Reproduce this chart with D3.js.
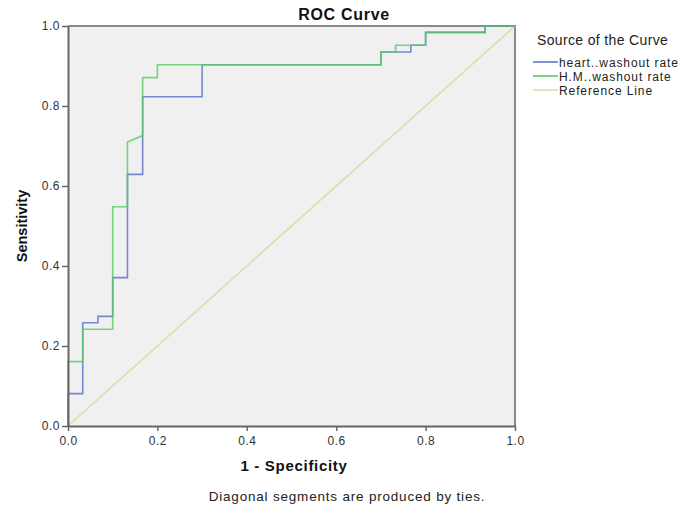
<!DOCTYPE html>
<html>
<head>
<meta charset="utf-8">
<script src="https://cdn.jsdelivr.net/npm/d3@7"></script>
<style>
  body { margin: 0; background: #fff; }
  svg { font-family: "Liberation Sans", Arial, sans-serif; }
</style>
</head>
<body>
<script>
// ROC points (1 - specificity, sensitivity)
const heartFpr = [0, 0, 0.033, 0.033, 0.067, 0.067, 0.1, 0.1, 0.133, 0.133, 0.167, 0.167, 0.3, 0.3, 0.7, 0.7, 0.767, 0.767, 0.8, 0.8, 0.933, 0.933, 1]
const heartTpr = [0, 0.081, 0.081, 0.258, 0.258, 0.274, 0.274, 0.371, 0.371, 0.629, 0.629, 0.823, 0.823, 0.903, 0.903, 0.935, 0.935, 0.952, 0.952, 0.984, 0.984, 1, 1]

const hmFpr = [0, 0, 0.033, 0.033, 0.1, 0.1, 0.133, 0.133, 0.167, 0.167, 0.2, 0.2, 0.7, 0.7, 0.733, 0.733, 0.8, 0.8, 0.933, 0.933, 1]
const hmTpr = [0, 0.161, 0.161, 0.242, 0.242, 0.548, 0.548, 0.71, 0.726, 0.871, 0.871, 0.903, 0.903, 0.935, 0.935, 0.952, 0.952, 0.984, 0.984, 1, 1]

const refFpr = [0, 1]
const refTpr = [0, 1]

const ticks = [0, 0.2, 0.4, 0.6, 0.8, 1.0]
const legendNames = ["heart..washout rate", "H.M..washout rate", "Reference Line"]
const colors = ["#5f77cc", "#55cc60", "#dcdcaa"]

const WIDTH = 688
const HEIGHT = 510
const plotL = 68, plotR = 515, plotT = 26, plotB = 426

const svg = d3.select("body").append("svg")
  .attr("width", WIDTH).attr("height", HEIGHT)

const x = d3.scaleLinear().domain([0, 1]).range([plotL, plotR])
const y = d3.scaleLinear().domain([0, 1]).range([plotB, plotT])

// plot background
svg.append("rect")
  .attr("x", plotL).attr("y", plotT)
  .attr("width", plotR - plotL).attr("height", plotB - plotT)
  .attr("fill", "#f0f0f0")

// frame top & right
svg.append("path")
  .attr("d", "M" + plotL + "," + plotT + "H" + plotR + "V" + plotB)
  .attr("fill", "none").attr("stroke", "#8a8a8a").attr("stroke-width", 2)

const line = d3.line().x(d => x(d[0])).y(d => y(d[1]))

function drawCurve(fx, ty, color, opacity) {
  svg.append("path")
    .datum(fx.map((v, i) => [v, ty[i]]))
    .attr("d", line)
    .attr("fill", "none")
    .attr("stroke", color)
    .attr("stroke-opacity", opacity)
    .attr("stroke-width", 1.6)
}

drawCurve(refFpr, refTpr, colors[2], 1)
drawCurve(heartFpr, heartTpr, colors[0], 0.85)
drawCurve(hmFpr, hmTpr, colors[1], 0.8)

// axes
const fmt = d3.format(".1f")
const xAxis = svg.append("g")
  .attr("transform", "translate(0," + plotB + ")")
  .call(d3.axisBottom(x).tickValues(ticks).tickFormat(fmt).tickSize(5).tickSizeOuter(0).tickPadding(5))
const yAxis = svg.append("g")
  .attr("transform", "translate(" + plotL + ",0)")
  .call(d3.axisLeft(y).tickValues(ticks).tickFormat(fmt).tickSize(6).tickSizeOuter(0).tickPadding(2))

for (const ax of [xAxis, yAxis]) {
  ax.select(".domain").attr("stroke", "#666").attr("stroke-width", 2)
  ax.selectAll(".tick line").attr("stroke", "#666").attr("stroke-width", 1.5)
  ax.selectAll("text").attr("fill", "#333").style("font-size", "12px")
    .style("letter-spacing", "0.5px")
    .style("font-family", "'Liberation Sans', Arial, sans-serif")
}

// titles
svg.append("text")
  .attr("x", 344).attr("y", 20)
  .attr("text-anchor", "middle")
  .style("font-size", "16px").style("font-weight", "bold")
  .style("letter-spacing", "0.7px")
  .attr("fill", "#111")
  .text("ROC Curve")

svg.append("text")
  .attr("x", 294).attr("y", 471)
  .attr("text-anchor", "middle")
  .style("font-size", "15px").style("font-weight", "bold")
  .style("letter-spacing", "0.7px")
  .attr("fill", "#111")
  .text("1 - Specificity")

svg.append("text")
  .attr("transform", "translate(27," + (plotT + plotB) / 2 + ") rotate(-90)")
  .attr("text-anchor", "middle")
  .style("font-size", "14.5px").style("font-weight", "bold")
  .attr("fill", "#111")
  .text("Sensitivity")

svg.append("text")
  .attr("x", 347).attr("y", 501)
  .attr("text-anchor", "middle")
  .style("font-size", "13.5px")
  .style("letter-spacing", "0.8px")
  .attr("fill", "#222")
  .text("Diagonal segments are produced by ties.")

// legend
const legend = svg.append("g")
legend.append("text")
  .attr("x", 537).attr("y", 45)
  .style("font-size", "14px")
  .style("letter-spacing", "0.35px")
  .attr("fill", "#222")
  .text("Source of the Curve")

legendNames.forEach(function(name, i) {
  const ly = 62 + i * 14
  legend.append("line")
    .attr("x1", 533).attr("x2", 558)
    .attr("y1", ly).attr("y2", ly)
    .attr("stroke", colors[i]).attr("stroke-width", 1.6)
  legend.append("text")
    .attr("x", 559).attr("y", ly + 4.5)
    .style("font-size", "12px")
    .style("letter-spacing", "0.9px")
    .attr("fill", "#222")
    .text(name)
})
</script>
</body>
</html>
